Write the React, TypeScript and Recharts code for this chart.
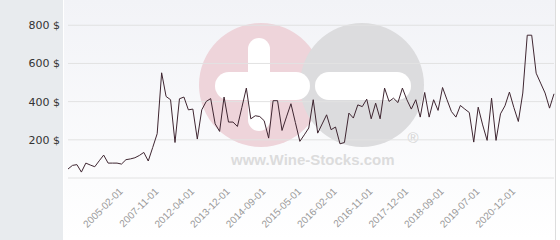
import React from 'react';
import { LineChart, Line, XAxis, YAxis, CartesianGrid } from 'recharts';

// price per point (left to right)
const PRICES = [
    47, 66, 70, 31, 78, 68, 59, 90, 120, 78,
    78, 78, 73, 96, 100, 106, 118, 134, 89, 160,
    232, 551, 427, 410, 186, 415, 424, 357, 361, 204,
    357, 401, 416, 284, 244, 424, 293, 293, 270, 370,
    471, 310, 326, 322, 300, 209, 405, 405, 249, 320,
    389, 290, 192, 226, 262, 410, 235, 283, 331, 253,
    267, 179, 186, 340, 314, 383, 374, 413, 310, 392,
    310, 471, 401, 418, 395, 471, 410, 361, 410, 319,
    448, 319, 410, 354, 474, 410, 348, 319, 380, 361,
    343, 188, 371, 278, 197, 418, 197, 336, 378, 450,
    369, 296, 445, 748, 748, 549, 497, 445, 366, 441,
];

const TICK_INDEX = [12, 20, 28, 36, 44, 52, 60, 68, 76, 84, 92, 100];
const TICK_LABELS = [
    '2005-02-01', '2007-11-01', '2012-04-01', '2013-12-01', '2014-09-01', '2015-05-01',
    '2016-02-01', '2016-11-01', '2017-12-01', '2018-09-01', '2019-07-01', '2020-12-01',
];
const Y_TICKS = [0, 200, 400, 600, 800];

const data = PRICES.map((price, i) => ({ i, price }));

const DateTick = (props: any) => {
    const { x, y, payload } = props;
    const k = TICK_INDEX.indexOf(payload.value);
    const tx = x + 2;
    const ty = y + 14;
    return (
        <text
            x={tx}
            y={ty}
            textAnchor="end"
            fill="#999"
            fontSize={10}
            fontFamily="'Liberation Sans', Arial, sans-serif"
            transform={`rotate(-45, ${tx}, ${ty})`}
        >
            {TICK_LABELS[k]}
        </text>
    );
};

const Watermark = () => (
    <svg width={560} height={240} style={{ position: 'absolute', left: 0, top: 0 }}>
        <defs>
            <linearGradient id="plotBg" x1="0" y1="0" x2="0" y2="1">
                <stop offset="0%" stopColor="#f2f3f7" />
                <stop offset="100%" stopColor="#ffffff" />
            </linearGradient>
        </defs>
        <rect x={0} y={0} width={63} height={240} fill="#e8ebee" />
        <rect x={64} y={0} width={491} height={240} fill="url(#plotBg)" />
        <line x1={555.5} y1={0} x2={555.5} y2={240} stroke="#dddddd" />
        <circle cx={261} cy={85} r={62} fill="#eed4da" />
        <circle cx={362} cy={85} r={62} fill="#dcdcde" />
        <rect x={248} y={38} width={22} height={93} rx={11} fill="#ffffff" />
        <rect x={215} y={72} width={95} height={28} rx={14} fill="#ffffff" />
        <rect x={315} y={72} width={96} height={28} rx={14} fill="#ffffff" />
        <text x={231} y={165} fontSize={15} fontWeight="bold" fill="#dcdcdc"
            fontFamily="'Liberation Sans', Arial, sans-serif">www.Wine-Stocks.com</text>
        <text x={413} y={143} fontSize={15} textAnchor="middle" fill="#d4d4d4"
            fontFamily="'Liberation Sans', Arial, sans-serif">®</text>
    </svg>
);

export default function App() {
    return (
        <div style={{ position: 'absolute', left: 0, top: 0, width: 560, height: 240 }}>
            <Watermark />
            <div style={{ position: 'absolute', left: 0, top: 0 }}>
                <LineChart width={560} height={240} data={data} margin={{ top: 10, right: 6, bottom: 2, left: 8 }}>
                    <CartesianGrid vertical={false} stroke="#e2e2e2" syncWithTicks />
                    <XAxis
                        type="number"
                        dataKey="i"
                        domain={[0, PRICES.length - 1]}
                        ticks={TICK_INDEX}
                        interval={0}
                        tick={<DateTick />}
                        axisLine={false}
                        tickLine={false}
                        tickSize={0}
                        tickMargin={0}
                        height={60}
                    />
                    <YAxis
                        domain={[0, 880]}
                        ticks={Y_TICKS}
                        width={60}
                        axisLine={false}
                        tickLine={false}
                        tickSize={0}
                        tickMargin={8}
                        tickFormatter={(v: number) => (v === 0 ? '' : `${v} $`)}
                        tick={{ fill: '#333', fontSize: 11, fontFamily: "'DejaVu Sans', Verdana, sans-serif" }}
                    />
                    <Line
                        type="linear"
                        dataKey="price"
                        stroke="#3f2631"
                        strokeWidth={1}
                        dot={false}
                        isAnimationActive={false}
                    />
                </LineChart>
            </div>
        </div>
    );
}
